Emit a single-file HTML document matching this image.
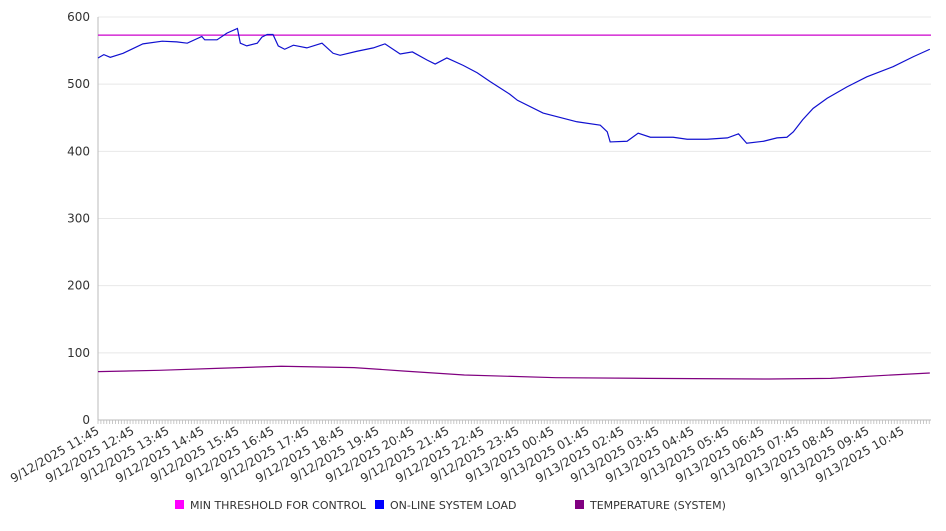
<!DOCTYPE html>
<html><head><meta charset="utf-8"><style>
body{margin:0;background:#fff;}
svg text{font-family:"DejaVu Sans","Liberation Sans",sans-serif;fill:#333;}
</style></head><body>
<svg id="chart" width="946" height="526"></svg>
<script>
const loadMinutes=[0,10,21,43,77,110,135,153,178,183,204,221,239,244,255,273,281,290,300,309,320,335,358,384,403,415,444,472,492,518,539,564,578,598,626,650,672,706,719,763,821,861,873,878,907,926,947,986,1010,1044,1079,1098,1112,1141,1164,1181,1192,1208,1226,1250,1284,1318,1363,1398,1426];
const loadValues=[539,544,540,546,560,564,563,561,571,566,566,576,583,561,557,561,570,574,574,557,552,558,554,561,546,543,549,554,560,545,548,536,530,539,528,517,504,485,476,457,444,439,429,414,415,427,421,421,418,418,420,426,412,415,420,421,429,447,464,479,496,511,526,541,552];
const tempMinutes=[0,105,209,314,439,523,628,785,942,1151,1256,1360,1426];
const tempValues=[72,74,77,80,78,73,67,63,62,61,62,67,70];
const threshold=573;
const yTicks=[0,100,200,300,400,500,600];
const xLabels=["9/12/2025 11:45","9/12/2025 12:45","9/12/2025 13:45","9/12/2025 14:45","9/12/2025 15:45","9/12/2025 16:45","9/12/2025 17:45","9/12/2025 18:45","9/12/2025 19:45","9/12/2025 20:45","9/12/2025 21:45","9/12/2025 22:45","9/12/2025 23:45","9/13/2025 00:45","9/13/2025 01:45","9/13/2025 02:45","9/13/2025 03:45","9/13/2025 04:45","9/13/2025 05:45","9/13/2025 06:45","9/13/2025 07:45","9/13/2025 08:45","9/13/2025 09:45","9/13/2025 10:45"];
const totalMinutes=1428;
const L=98,R=931,T=17,B=420;
const xs=m=>L+(R-L)*m/totalMinutes;
const ys=v=>B-(B-T)*v/600;
const svg=document.getElementById('chart');
const NS='http://www.w3.org/2000/svg';
function mk(tag,attrs){const e=document.createElementNS(NS,tag);for(const k in attrs)e.setAttribute(k,attrs[k]);svg.appendChild(e);return e;}
yTicks.forEach(v=>{
  const g=mk('line',{x1:L,x2:R,y1:ys(v),y2:ys(v),stroke:v===0?'#bbb':'#e8e8e8','stroke-width':1});
  
  
  const t=mk('text',{x:90,y:ys(v)+4,'text-anchor':'end','font-size':12});
  t.textContent=v;
  
  
});
const ax=mk('line',{x1:L,x2:L,y1:T,y2:B,stroke:'#bbb'});


for(let m=0;m<=totalMinutes;m+=5){
  const tk=mk('line',{x1:xs(m),x2:xs(m),y1:B,y2:B+4,stroke:'#bbb','stroke-width':0.8});
  
  
}
xLabels.forEach((s,i)=>{
  const x=xs(i*60);
  if(x>R+5)return;
  const t=mk('text',{x:x+2,y:B+13,'text-anchor':'end','font-size':12,transform:`rotate(-30 ${x+2} ${B+13})`});
  t.textContent=s;
  
  
});
const th=mk('line',{x1:L,x2:R,y1:ys(threshold),y2:ys(threshold),stroke:'#cc00cc','stroke-width':1.2});


const lp=mk('polyline',{points:loadMinutes.map((m,i)=>xs(m)+','+ys(loadValues[i])).join(' '),fill:'none',stroke:'#1010d0','stroke-width':1.2});


const tp=mk('polyline',{points:tempMinutes.map((m,i)=>xs(m)+','+ys(tempValues[i])).join(' '),fill:'none',stroke:'#800080','stroke-width':1.2});


const legend=[["MIN THRESHOLD FOR CONTROL","#ff00ff",175],["ON-LINE SYSTEM LOAD","#0000ff",375],["TEMPERATURE (SYSTEM)","#800080",575]];
legend.forEach(([label,c,x])=>{
  const r=mk('rect',{x:x,y:500,width:9,height:9,fill:c});
  
  
  const t=mk('text',{x:x+15,y:509,'font-size':11});
  t.textContent=label;
  
  
});
</script>
</body></html>
